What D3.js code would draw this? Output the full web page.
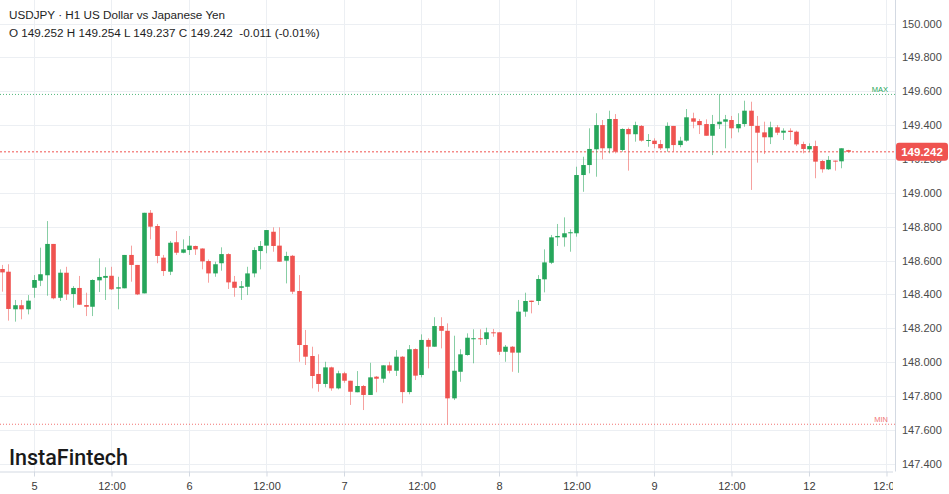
<!DOCTYPE html>
<html><head><meta charset="utf-8">
<script src="https://cdn.jsdelivr.net/npm/d3@7"></script>
<style>body{margin:0;background:#fff;} svg{display:block;font-family:"Liberation Sans",Arial,sans-serif;}</style>
</head><body>
<svg id="chart" width="949" height="494"></svg>
<script>
// hourly candles, index 0 = "5" 00:00
const startHour = -5;
const open = [148.550,148.534,148.312,148.336,148.312,148.439,148.481,148.513,148.698,148.380,148.528,148.402,148.438,148.337,148.327,148.483,148.498,148.510,148.434,148.436,148.633,148.574,148.406,148.882,148.804,148.617,148.534,148.708,148.646,148.662,148.686,148.671,148.597,148.524,148.584,148.638,148.475,148.439,148.445,148.524,148.656,148.688,148.770,148.688,148.599,148.628,148.420,148.101,148.036,147.930,147.871,147.969,147.845,147.934,147.890,147.822,147.859,147.806,147.914,147.902,147.981,147.949,148.032,147.823,148.077,147.924,148.131,148.091,148.213,148.185,147.786,147.943,148.042,148.135,148.141,148.136,148.176,148.176,148.061,148.091,148.056,148.298,148.363,148.361,148.489,148.587,148.737,148.737,148.761,148.761,149.105,149.164,149.257,149.400,149.263,149.436,149.253,149.377,149.346,149.395,149.306,149.308,149.288,149.263,149.395,149.282,149.308,149.440,149.424,149.406,149.337,149.405,149.420,149.430,149.381,149.406,149.485,149.395,149.357,149.328,149.387,149.355,149.367,149.361,149.288,149.257,149.276,149.188,149.139,149.190,149.186,149.252];
const high = [148.574,148.578,148.367,148.367,148.396,148.514,148.676,148.833,148.698,148.548,148.563,148.449,148.509,148.410,148.489,148.613,148.560,148.563,148.504,148.633,148.688,148.574,148.882,148.898,148.816,148.633,148.715,148.774,148.725,148.745,148.688,148.672,148.606,148.593,148.678,148.643,148.509,148.479,148.563,148.678,148.715,148.780,148.796,148.796,148.652,148.633,148.514,148.190,148.091,148.046,148.002,147.973,147.949,147.943,147.890,147.947,147.865,147.996,147.918,147.981,148.002,148.071,148.036,148.101,148.081,148.164,148.141,148.265,148.265,148.229,148.156,148.076,148.170,148.194,148.194,148.203,148.196,148.176,148.101,148.095,148.367,148.410,148.363,148.514,148.666,148.751,148.816,148.855,148.784,149.154,149.213,149.381,149.470,149.430,149.485,149.465,149.381,149.385,149.420,149.400,149.347,149.322,149.312,149.416,149.395,149.331,149.495,149.473,149.436,149.434,149.460,149.584,149.460,149.454,149.470,149.544,149.538,149.454,149.420,149.420,149.400,149.381,149.381,149.367,149.302,149.292,149.308,149.194,149.217,149.190,149.263,149.254];
const low = [148.416,148.245,148.239,148.253,148.282,148.380,148.449,148.392,148.371,148.361,148.367,148.321,148.337,148.272,148.272,148.414,148.367,148.426,148.312,148.436,148.475,148.396,148.406,148.725,148.584,148.509,148.514,148.633,148.643,148.633,148.633,148.548,148.469,148.504,148.540,148.432,148.386,148.367,148.396,148.501,148.548,148.643,148.652,148.593,148.465,148.402,148.002,147.983,147.845,147.825,147.851,147.831,147.839,147.878,147.747,147.822,147.717,147.806,147.822,147.878,147.934,147.918,147.757,147.810,147.894,147.910,147.963,148.091,148.081,147.633,147.776,147.884,148.038,147.993,148.101,148.101,148.150,148.042,148.002,147.943,147.937,148.268,148.288,148.337,148.412,148.579,148.686,148.682,148.652,148.741,149.006,149.115,149.095,149.198,149.233,149.233,149.243,149.131,149.302,149.302,149.272,149.263,149.253,149.243,149.243,149.269,149.302,149.381,149.347,149.337,149.223,149.377,149.263,149.322,149.357,149.390,149.017,149.178,149.229,149.288,149.341,149.312,149.312,149.276,149.233,149.243,149.086,149.119,149.135,149.131,149.145,149.237];
const close = [148.530,148.314,148.336,148.312,148.363,148.485,148.519,148.698,148.377,148.528,148.400,148.438,148.339,148.327,148.485,148.503,148.509,148.430,148.442,148.633,148.574,148.400,148.882,148.800,148.627,148.538,148.705,148.646,148.666,148.688,148.666,148.595,148.524,148.578,148.638,148.471,148.439,148.448,148.524,148.662,148.686,148.780,148.686,148.593,148.627,148.416,148.101,148.032,147.918,147.871,147.969,147.845,147.934,147.890,147.825,147.859,147.806,147.910,147.902,147.981,147.949,148.032,147.823,148.076,147.920,148.131,148.091,148.213,148.185,147.786,147.949,148.046,148.144,148.141,148.135,148.176,148.172,148.061,148.091,148.056,148.298,148.361,148.355,148.491,148.589,148.737,148.745,148.761,148.767,149.105,149.164,149.259,149.400,149.263,149.436,149.243,149.377,149.346,149.400,149.308,149.312,149.288,149.263,149.395,149.282,149.308,149.446,149.420,149.400,149.337,149.406,149.420,149.434,149.381,149.406,149.485,149.395,149.355,149.328,149.387,149.355,149.367,149.359,149.286,149.259,149.276,149.184,149.139,149.194,149.186,149.263,149.242];

const xTickHours = [0,12,24,36,48,60,72,84,96,108,120,132];
const xTickLabels = ["5","12:00","6","12:00","7","12:00","8","12:00","9","12:00","12","12:00"];
const yTicks = [147.4,147.6,147.8,148.0,148.2,148.4,148.6,148.8,149.0,149.2,149.4,149.6,149.8,150.0];
const titleLine = "USDJPY · H1 US Dollar vs Japanese Yen";
const ohlcLine = "O 149.252 H 149.254 L 149.237 C 149.242  -0.011 (-0.01%)";
const brand = "InstaFintech";

const UP = "#26a65b", DOWN = "#ef5350";
const svg = d3.select("#chart");
const plotW = 895, plotB = 471.5;

const x = d3.scaleLinear().domain([-5.265, 133.32]).range([0, plotW]);
const y = d3.scaleLinear().domain([147.4, 150]).range([463.7, 23.5]);

const candles = open.map((o, i) => ({t: startHour + i, o, h: high[i], l: low[i], c: close[i]}));
const lastPrice = close[close.length - 1];
const maxHigh = d3.max(high), minLow = d3.min(low);

const defs = svg.append("defs");
defs.append("clipPath").attr("id","plotclip")
  .append("rect").attr("x",0).attr("y",0).attr("width",plotW).attr("height",plotB);
defs.append("clipPath").attr("id","xclip2")
  .append("rect").attr("x",0).attr("y",-2).attr("width",plotW-2).attr("height",30);

// grid
const grid = svg.append("g");
grid.selectAll("line.h").data(yTicks).join("line")
  .attr("x1",0).attr("x2",plotW).attr("y1",d=>Math.round(y(d))+0.5).attr("y2",d=>Math.round(y(d))+0.5)
  .attr("stroke","#eceff3");
grid.selectAll("line.v").data(xTickHours).join("line")
  .attr("x1",d=>Math.round(x(d))+0.5).attr("x2",d=>Math.round(x(d))+0.5).attr("y1",0).attr("y2",plotB)
  .attr("stroke","#eceff3");

// header
svg.append("text").attr("x",9).attr("y",19).attr("font-size",11.7).attr("fill","#1e1e1e").text(titleLine);
svg.append("text").attr("x",9).attr("y",36.5).attr("font-size",11.7).attr("fill","#1e1e1e")
  .style("white-space","pre").text(ohlcLine);

// plot
const plot = svg.append("g").attr("clip-path","url(#plotclip)");

// max/min lines
plot.append("line").attr("x1",0).attr("x2",plotW).attr("y1",y(maxHigh)+0.5).attr("y2",y(maxHigh)+0.5)
  .attr("stroke",UP).attr("stroke-width",1).attr("stroke-dasharray","1,2").attr("opacity",0.8);
plot.append("line").attr("x1",0).attr("x2",plotW).attr("y1",y(minLow)).attr("y2",y(minLow))
  .attr("stroke",DOWN).attr("stroke-width",1).attr("stroke-dasharray","1,2").attr("opacity",0.8);
svg.append("text").attr("x",888).attr("y",y(maxHigh)-2).attr("text-anchor","end").attr("font-size",7.5)
  .attr("fill",UP).text("MAX");
svg.append("text").attr("x",888).attr("y",y(minLow)-2.5).attr("text-anchor","end").attr("font-size",7.5)
  .attr("fill",DOWN).attr("opacity",0.8).text("MIN");

// last price line
plot.append("line").attr("x1",0).attr("x2",plotW).attr("y1",y(lastPrice)).attr("y2",y(lastPrice))
  .attr("stroke",DOWN).attr("stroke-width",1).attr("stroke-dasharray","2,2");

const bw = 4.6;
const cg = plot.append("g").selectAll("g").data(candles).join("g");
cg.append("line")
  .attr("x1",d=>Math.round(x(d.t))+0.5).attr("x2",d=>Math.round(x(d.t))+0.5)
  .attr("y1",d=>y(d.h)).attr("y2",d=>y(d.l))
  .attr("stroke",d=>d.c>=d.o?UP:DOWN).attr("stroke-opacity",0.55);
cg.append("rect")
  .attr("x",d=>Math.round(x(d.t))+0.5-bw/2).attr("width",bw)
  .attr("y",d=>y(Math.max(d.o,d.c)))
  .attr("height",d=>Math.max(1, y(Math.min(d.o,d.c))-y(Math.max(d.o,d.c))))
  .attr("fill",d=>d.c>=d.o?UP:DOWN);

// right axis
const yAxis = d3.axisRight(y).tickValues(yTicks).tickFormat(d3.format(".3f")).tickSize(0).tickPadding(7);
const ya = svg.append("g").attr("transform",`translate(${plotW},0)`).call(yAxis);
ya.select(".domain").remove();
ya.selectAll("text").attr("font-size",11).attr("fill","#4a4a4a").attr("font-family","Liberation Sans, Arial, sans-serif");

svg.append("line").attr("x1",plotW+0.5).attr("x2",plotW+0.5).attr("y1",0).attr("y2",plotB)
  .attr("stroke","#d3d9e2");

// bottom axis
const xAxis = d3.axisBottom(x).tickValues(xTickHours).tickFormat((d,i)=>xTickLabels[i]).tickSize(5).tickPadding(6);
const xa = svg.append("g").attr("transform",`translate(0,${plotB})`).attr("clip-path","url(#xclip2)").call(xAxis);
xa.select(".domain").attr("stroke","#d3d9e2").attr("d",`M0,0.5H${plotW}`);
xa.selectAll(".tick line").attr("stroke","#d3d9e2");
xa.selectAll("text").attr("font-size",11).attr("fill","#3a3a3a").attr("font-family","Liberation Sans, Arial, sans-serif");

// price label
const pl = svg.append("g");
pl.append("rect").attr("x",plotW+1).attr("y",y(lastPrice)-9).attr("width",52).attr("height",18).attr("rx",3)
  .attr("fill",DOWN);
pl.append("text").attr("x",plotW+27).attr("y",y(lastPrice)+4.2).attr("text-anchor","middle")
  .attr("font-size",11.5).attr("font-weight","bold").attr("fill","#fff").text(d3.format(".3f")(lastPrice));

// brand
svg.append("text").attr("x",9).attr("y",465).attr("font-size",21.5).attr("font-weight",500)
  .attr("font-family","Roboto, Arial, sans-serif").attr("fill","#1a1a1a").text(brand);
</script>
</body></html>
